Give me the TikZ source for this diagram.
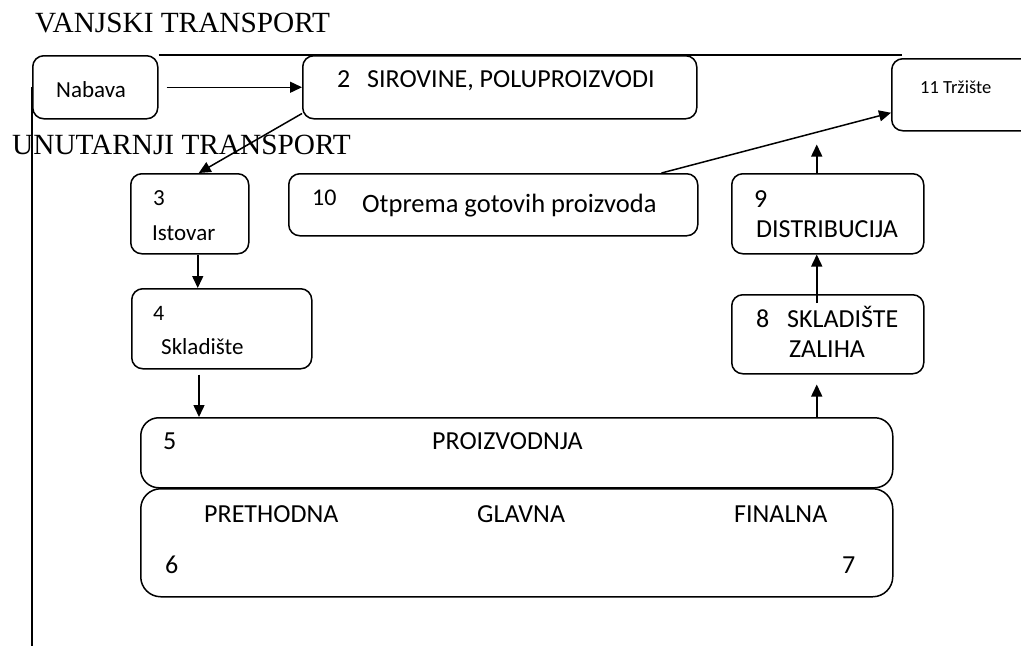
\documentclass[tikz,border=0pt]{standalone}
\usepackage{fontspec}
\setmainfont{Carlito}
\newfontfamily\naslovfont{Liberation Serif}
\usetikzlibrary{
  positioning,
  arrows.meta
}
\newcommand{\vel}[1]{\fontsize{#1}{#1}\selectfont}

\begin{document}
\begin{tikzpicture}[x=1pt,y=-1pt]
	\tikzset{
		kutija/.style={
				rectangle, draw, line width=1.5pt,
				rounded corners=11pt, anchor=north west, inner sep=0pt,
			},
		velika/.style={kutija, rounded corners=18pt},
		tekst/.style={anchor=base west, inner sep=0pt, font=\vel{23}},
		veliko/.style={tekst, font=\vel{26}},
		naslov/.style={anchor=base west, inner sep=0pt, font=\naslovfont\vel{29.3}},
		rel/.style={
				-{Triangle[length=12pt,width=11pt]}, line width=1.5pt, },
		crta/.style={line width=1.5pt},
	}
	\useasboundingbox (0,0) rectangle (1021,646);

	% naslovi
	\node[naslov] (vanjski) at (35,32) {VANJSKI TRANSPORT};
	\node[naslov] (unutarnji) at (12,154) {UNUTARNJI TRANSPORT};

	% kutije
	\node[kutija, minimum width=125pt, minimum height=63pt] (nabava) at (32,55) {};
	\node[kutija, minimum width=394pt, minimum height=63pt] (sirovine) at (302,55) {};
	\node[kutija, minimum width=150pt, minimum height=72pt] (trziste) at (891,58) {};
	\node[kutija, minimum width=118pt, minimum height=80pt] (istovar) at (130,173) {};
	\node[kutija, minimum width=409pt, minimum height=62pt] (otprema) at (288,173) {};
	\node[kutija, minimum width=192pt, minimum height=80pt] (distrib) at (731,173) {};
	\node[kutija, minimum width=180pt, minimum height=80pt] (skladiste) at (131,288) {};
	\node[kutija, minimum width=192pt, minimum height=79pt] (zaliha) at (731,294) {};
	\node[velika, minimum width=752pt, minimum height=70pt] (proizv) at (140,417) {};
	\node[velika, rounded corners=20pt, minimum width=752pt, minimum height=108pt] (faze) at (140,488) {};

	% tekstovi
	\node[tekst] (nabavatx) at (56,97) {Nabava};
	\node[veliko] (sirovinebr) at (337,87) {2};
	\node[veliko] (sirovinetx) at (367,87) {SIROVINE, POLUPROIZVODI};
	\node[tekst, font=\vel{18.5}] (trzistetx) at (920,93) {11 Tržište};
	\node[tekst] (istovarbr) at (153,205) {3};
	\node[tekst] (istovartx) at (152,240) {Istovar};
	\node[tekst, font=\vel{24}] (otpremabr) at (312,205) {10};
	\node[tekst, font=\vel{26.5}] (otprematx) at (362,212) {Otprema gotovih proizvoda};
	\node[veliko] (distribbr) at (754,207) {9};
	\node[veliko] (distribtx) at (756,237) {DISTRIBUCIJA};
	\node[tekst, font=\vel{22}] (skladistebr) at (153,320) {4};
	\node[tekst] (skladistetx) at (161,354) {Skladište};
	\node[veliko] (zalihabr) at (756,327) {8};
	\node[veliko] (zalihatx) at (787,327) {SKLADIŠTE};
	\node[veliko] (zalihatx2) at (789,357) {ZALIHA};
	\node[veliko] (proizvbr) at (163,449) {5};
	\node[veliko] (proizvtx) at (432,449) {PROIZVODNJA};
	\node[veliko] (prethodna) at (204,522) {PRETHODNA};
	\node[veliko] (glavna) at (477,522) {GLAVNA};
	\node[veliko] (finalna) at (734,522) {FINALNA};
	\node[veliko] (fazebr6) at (165,573) {6};
	\node[veliko] (fazebr7) at (842,573) {7};

	% linije
	\coordinate (dno) at (33,646);
	\draw[crta] (nabava.north east) -- ([xshift=11pt]nabava.north east -| trziste.west);
	\draw[crta] (nabava.west) -- (nabava.west |- dno);

	% strelice
	\draw[rel, shorten <=8pt] (nabava.east) -- (sirovine.west);
	\draw[rel] ([yshift=6pt]sirovine.south west) -- ([xshift=9pt]istovar.north);
	\draw[rel] ([xshift=8pt]istovar.south) -- ([xshift=8pt]istovar.south |- skladiste.north);
	\draw[rel, shorten <=5pt] ([xshift=68pt]skladiste.south west) -- ([xshift=68pt]skladiste.south west |- proizv.north);
	\draw[rel, shorten >=10pt] ([xshift=-11pt]zaliha.south |- proizv.north) -- ([xshift=-11pt]zaliha.south);
	\draw[rel] ([xshift=-11pt,yshift=-9pt]zaliha.north) -- ([xshift=-11pt]distrib.south);
	\draw[rel, shorten >=13pt] ([xshift=-11pt]distrib.north) -- ([xshift=-11pt]distrib.north |- trziste.south);
	\draw[rel] ([xshift=-37pt]otprema.north east) -- ([yshift=-18pt]trziste.west);
\end{tikzpicture}
\end{document}
